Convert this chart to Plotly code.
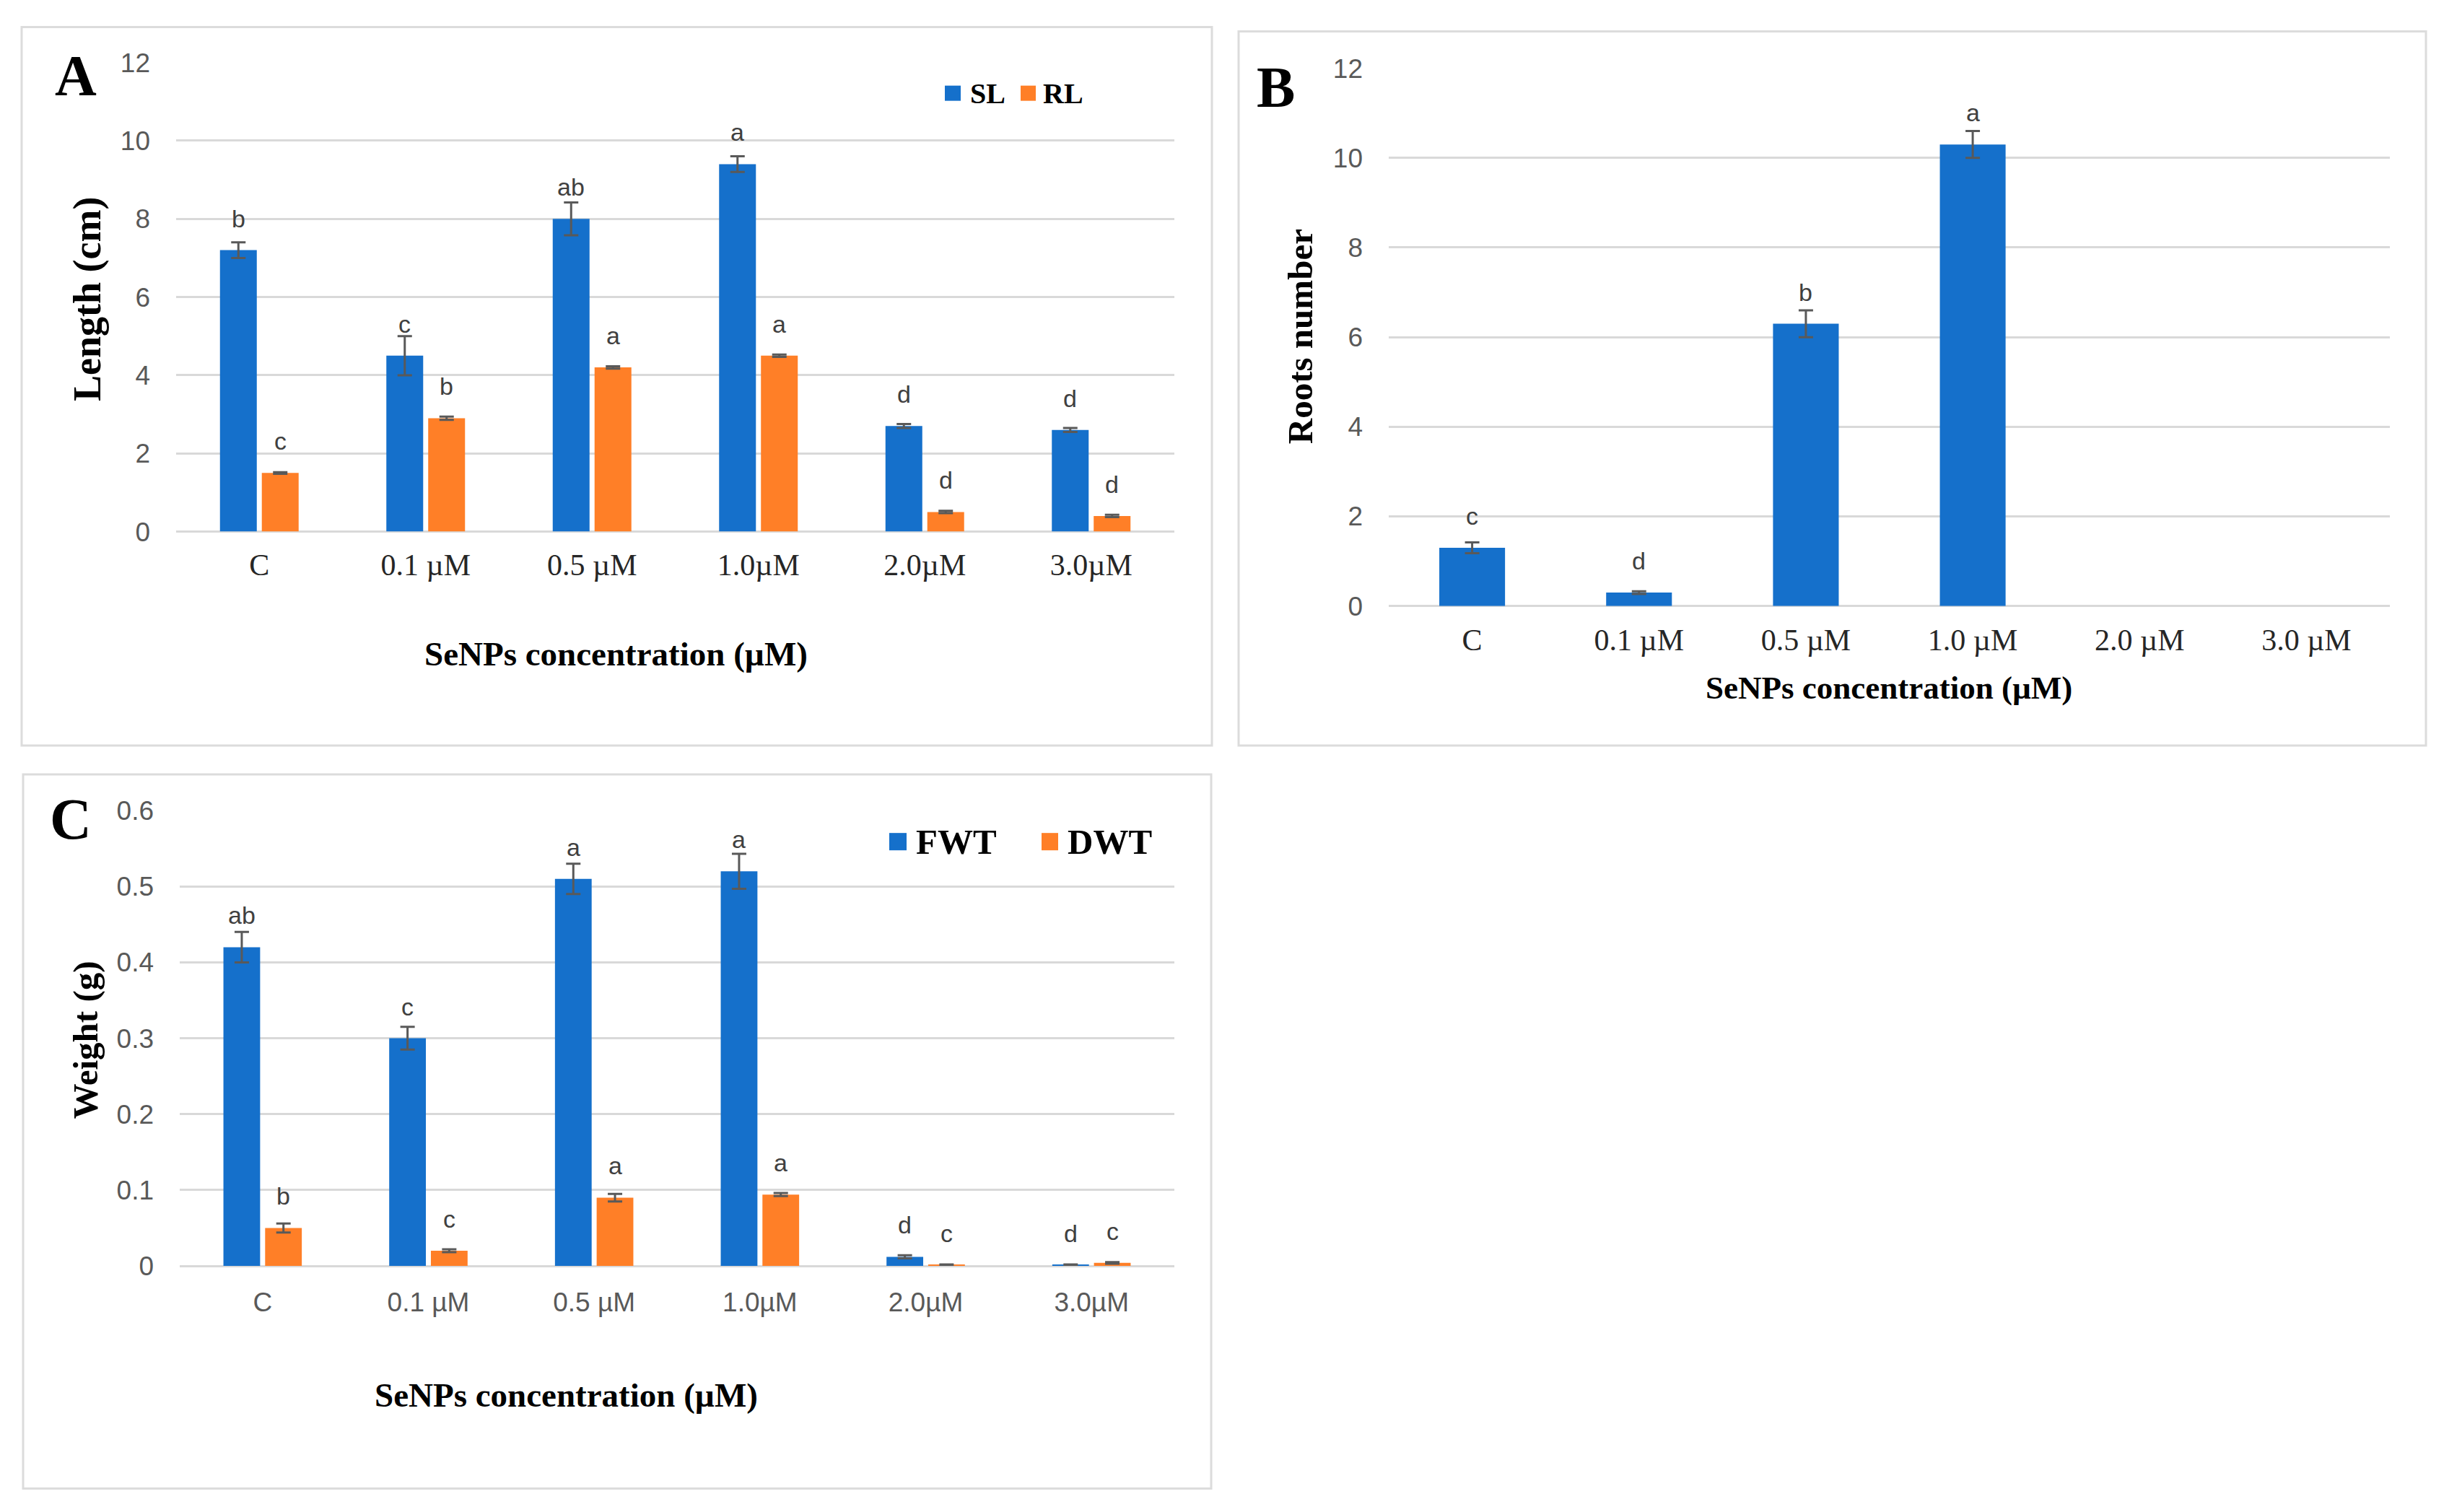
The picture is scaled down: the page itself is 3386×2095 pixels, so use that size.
import plotly.graph_objects as go

# ---------------- data ----------------
cats_A = ["C", "0.1 µM", "0.5 µM", "1.0µM", "2.0µM", "3.0µM"]
SL = [7.2, 4.5, 8.0, 9.4, 2.7, 2.6]
SL_err = [0.2, 0.5, 0.42, 0.2, 0.05, 0.05]
SL_sig = ["b", "c", "ab", "a", "d", "d"]
RL = [1.5, 2.9, 4.2, 4.5, 0.5, 0.4]
RL_err = [0.02, 0.04, 0.03, 0.03, 0.03, 0.03]
RL_sig = ["c", "b", "a", "a", "d", "d"]

cats_B = ["C", "0.1 µM", "0.5 µM", "1.0 µM", "2.0 µM", "3.0 µM"]
roots = [1.3, 0.3, 6.3, 10.3, 0, 0]
roots_err = [0.12, 0.03, 0.3, 0.3, 0, 0]
roots_sig = ["c", "d", "b", "a", "", ""]

cats_C = ["C", "0.1 µM", "0.5 µM", "1.0µM", "2.0µM", "3.0µM"]
FWT = [0.42, 0.30, 0.51, 0.52, 0.012, 0.001]
FWT_err = [0.02, 0.015, 0.02, 0.023, 0.002, 0.001]
FWT_sig = ["ab", "c", "a", "a", "d", "d"]
DWT = [0.05, 0.02, 0.09, 0.094, 0.001, 0.004]
DWT_err = [0.006, 0.002, 0.005, 0.002, 0.001, 0.001]
DWT_sig = ["b", "c", "a", "a", "c", "c"]

# ---------------- style ----------------
W, H = 3386, 2095
BLUE = "#1570CB"
ORANGE = "#FF7F27"
GRID = "#D9D9D9"
ERR = "#595959"
SERIF = "Liberation Serif, Times New Roman, serif"
SANS = "Liberation Sans, Arial, sans-serif"
BARGAP = 0.497
GROUPGAP = 0.12
B_WIDTH = 0.394

# the photographed page shows the figure slightly squeezed vertically;
# layout positions (in target-picture pixels) are converted through this
VS, VOFF = 0.979, 19.5


def fx(x):
    return x / W


def fy(y):
    return 1 - ((y - VOFF) / VS) / H


fig = go.Figure()


def err(arr):
    return dict(type="data", array=arr, color=ERR, thickness=3, width=10, visible=True)


# zero-height bars (no roots) are left out so no empty error caps are drawn
roots_plot = [v if v else None for v in roots]

fig.add_trace(go.Bar(x=cats_A, y=SL, error_y=err(SL_err), marker=dict(color=BLUE, line=dict(width=0)),
                     name="SL", xaxis="x", yaxis="y", showlegend=False))
fig.add_trace(go.Bar(x=cats_A, y=RL, error_y=err(RL_err), marker=dict(color=ORANGE, line=dict(width=0)),
                     name="RL", xaxis="x", yaxis="y", showlegend=False))
fig.add_trace(go.Bar(x=cats_B, y=roots_plot, error_y=err(roots_err), marker=dict(color=BLUE, line=dict(width=0)),
                     width=B_WIDTH, name="Roots", xaxis="x2", yaxis="y2", showlegend=False))
fig.add_trace(go.Bar(x=cats_C, y=FWT, error_y=err(FWT_err), marker=dict(color=BLUE, line=dict(width=0)),
                     name="FWT", xaxis="x3", yaxis="y3", showlegend=False))
fig.add_trace(go.Bar(x=cats_C, y=DWT, error_y=err(DWT_err), marker=dict(color=ORANGE, line=dict(width=0)),
                     name="DWT", xaxis="x3", yaxis="y3", showlegend=False))

annotations = []

# significance letters
slot = (1 - BARGAP) / 2


def add_letters(vals, sigs, xref, yref, offset):
    for i, (v, s) in enumerate(zip(vals, sigs)):
        if not s:
            continue
        annotations.append(dict(x=i + offset, y=v, xref=xref, yref=yref, text=s, showarrow=False,
                                yanchor="middle", yshift=44,
                                font=dict(family=SANS, size=34, color="#404040")))


add_letters(SL, SL_sig, "x", "y", -slot / 2)
add_letters(RL, RL_sig, "x", "y", slot / 2)
add_letters(roots, roots_sig, "x2", "y2", 0)
add_letters(FWT, FWT_sig, "x3", "y3", -slot / 2)
add_letters(DWT, DWT_sig, "x3", "y3", slot / 2)

# panel letters
for t, x, y in [("A", 105, 104), ("B", 1767, 120), ("C", 98, 1133)]:
    annotations.append(dict(x=fx(x), y=fy(y), xref="paper", yref="paper", text=f"<b>{t}</b>",
                            showarrow=False, xanchor="center", yanchor="middle",
                            font=dict(family=SERIF, size=80, color="black")))

# axis titles
xt = "<b>SeNPs concentration (µM)</b>"
for x, y, s in [(853, 904, 47), (2617, 951, 45), (784, 1930, 47)]:
    annotations.append(dict(x=fx(x), y=fy(y), xref="paper", yref="paper", text=xt, showarrow=False,
                            xanchor="center", yanchor="middle",
                            font=dict(family=SERIF, size=s, color="black")))
for t, x, y, s in [("Length (cm)", 121, 413, 54), ("Roots number", 1801, 465, 49), ("Weight (g)", 119, 1439, 49)]:
    annotations.append(dict(x=fx(x), y=fy(y), xref="paper", yref="paper", text=f"<b>{t}</b>",
                            showarrow=False, textangle=-90, xanchor="center", yanchor="middle",
                            font=dict(family=SERIF, size=s, color="black")))

# legends (manual)
shapes = []
for (x0, x1, y0, y1, col) in [(1309, 1331, 118, 139, BLUE), (1414, 1435, 118, 139, ORANGE),
                              (1232, 1256, 1152, 1176, BLUE), (1443, 1466, 1152, 1176, ORANGE)]:
    shapes.append(dict(type="rect", xref="paper", yref="paper", x0=fx(x0), x1=fx(x1), y0=fy(y1), y1=fy(y0),
                       fillcolor=col, line=dict(width=0)))
for t, x, y, s in [("SL", 1342, 129, 40), ("RL", 1443, 129, 40), ("FWT", 1267, 1164, 49), ("DWT", 1477, 1164, 49)]:
    annotations.append(dict(x=fx(x), y=fy(y), xref="paper", yref="paper", text=f"<b>{t}</b>",
                            showarrow=False, xanchor="left", yanchor="middle",
                            font=dict(family=SERIF, size=s, color="black")))

# panel borders
for (x0, x1, y0, y1) in [(30, 1679, 37, 1031), (1716, 3361, 43, 1031), (32, 1678, 1071, 2059)]:
    shapes.append(dict(type="rect", xref="paper", yref="paper", x0=fx(x0), x1=fx(x1), y0=fy(y1), y1=fy(y0),
                       line=dict(color="#DCDCDC", width=3), fillcolor="rgba(0,0,0,0)", layer="below"))


def yax(dom, rng, dt, anchor):
    return dict(domain=[fy(dom[1]), fy(dom[0])], range=rng, dtick=dt, tick0=0, anchor=anchor,
                showgrid=True, gridcolor=GRID, gridwidth=2.5, zeroline=True, zerolinecolor=GRID,
                zerolinewidth=2.5, showline=False, ticks="", ticklabelstandoff=35,
                tickfont=dict(family=SANS, size=37, color="#595959"), fixedrange=True)


def xax(dom, anchor, font, standoff):
    return dict(domain=[fx(dom[0]), fx(dom[1])], type="category", anchor=anchor, showgrid=False,
                zeroline=False, showline=False, ticks="", tickfont=font, ticklabelstandoff=standoff)


serif_tick = dict(family=SERIF, size=42, color="#262626")
sans_tick = dict(family=SANS, size=37, color="#595959")

fig.update_layout(
    width=W, height=H, autosize=False,
    margin=dict(l=0, r=0, t=0, b=0),
    paper_bgcolor="white", plot_bgcolor="white",
    barmode="group", bargap=BARGAP, bargroupgap=GROUPGAP,
    showlegend=False,
    xaxis=xax((244, 1627), "y", serif_tick, 17),
    yaxis=yax((86, 735), [0, 12], 2, "x"),
    xaxis2=xax((1924, 3311), "y2", serif_tick, 18),
    yaxis2=yax((94, 838), [0, 12], 2, "x2"),
    xaxis3=xax((249, 1627), "y3", sans_tick, 25),
    yaxis3=yax((1121, 1751), [0, 0.6], 0.1, "x3"),
    annotations=annotations,
    shapes=shapes,
)

fig.write_html(
    "out.html",
    config={"displayModeBar": False},
    post_script="document.body.style.margin='0';document.body.style.overflow='hidden';",
)
